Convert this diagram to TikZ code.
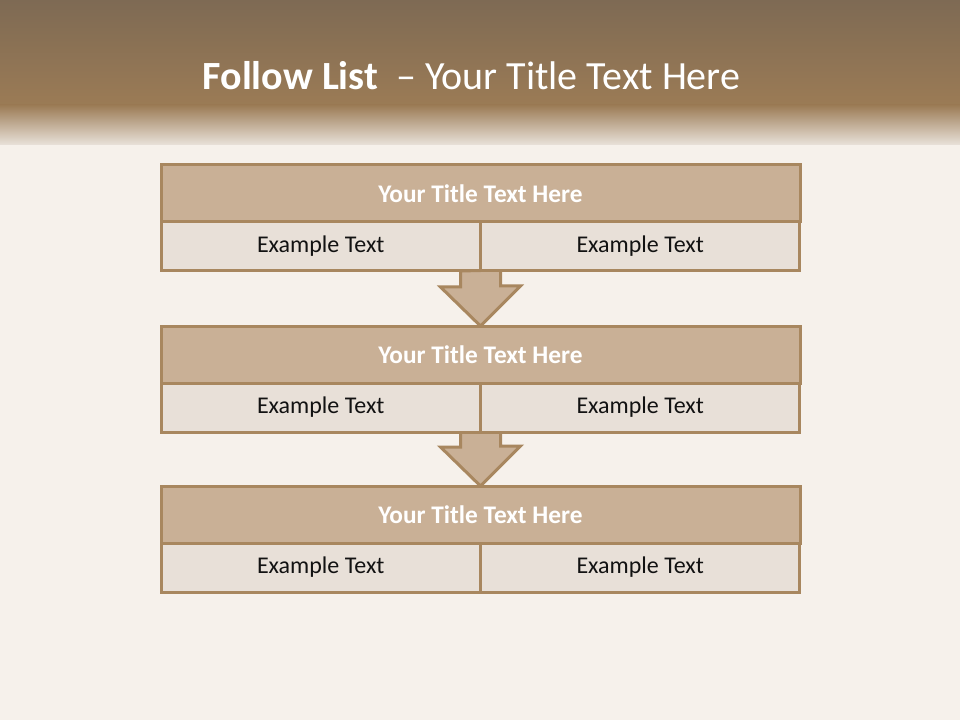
\documentclass[tikz,border=0pt]{standalone}
\usepackage{fontspec}
\setmainfont{Carlito}
\usetikzlibrary{positioning,calc,backgrounds}

\definecolor{paper}{HTML}{F6F1EB}
\definecolor{bandtop}{HTML}{7E6A54}
\definecolor{bandmid}{HTML}{9B7B55}
\definecolor{bandlow}{HTML}{E9E2DA}
\definecolor{rim}{HTML}{A8875F}
\definecolor{headfill}{HTML}{C9B096}
\definecolor{cellfill}{HTML}{E8E0D8}

\tikzset{
  head/.style={rectangle, draw=rim, fill=headfill, line width=2.25pt,
    minimum width=479.25pt, minimum height=42.75pt, inner sep=0pt, outer sep=0pt,
    text=white, font=\fontsize{19}{21}\selectfont\bfseries},
  cell/.style={rectangle, draw=rim, fill=cellfill, line width=2.25pt,
    minimum width=239.6pt, minimum height=36.75pt, inner sep=0pt, outer sep=0pt,
    text=black!93, font=\fontsize{18}{20}\selectfont},
  downarrow/.style={draw=rim, fill=headfill, line width=2.25pt, line join=miter}
}

\begin{document}
\begin{tikzpicture}[x=0.75pt, y=-0.75pt]
    \useasboundingbox (0,0) rectangle (960,720);

    % first block
    \node[head] (h1) at (480.5,193.5) {Your Title Text Here};
    \node[cell, anchor=north east] (l1) at (h1.south) {Example Text};
    \node[cell, anchor=north west] (r1) at (h1.south) {Example Text};

    % second block
    \node[head] (h2) at (480.5,354.5) {Your Title Text Here};
    \node[cell, anchor=north east] (l2) at (h2.south) {Example Text};
    \node[cell, anchor=north west] (r2) at (h2.south) {Example Text};

    % third block
    \node[head] (h3) at (480.5,514.5) {Your Title Text Here};
    \node[cell, anchor=north east] (l3) at (h3.south) {Example Text};
    \node[cell, anchor=north west] (r3) at (h3.south) {Example Text};

    % title
    \node[text=white, font=\fontsize{30}{33}\selectfont] (title) at (471.5,76)
        {\textbf{Follow List}\ \ -- Your Title Text Here};

    \begin{scope}[on background layer]
        % backdrop and band
        \fill[paper] (0,0) rectangle (960,720);
        \shade[top color=bandtop, bottom color=bandmid] (0,0) rectangle (960,105);
        \shade[top color=bandmid, bottom color=bandlow] (0,105) rectangle (960,145);

        % arrows
        \draw[downarrow] ($(l1.south east)+(-20,0)$) -- ++(0,16) -- ++(-20,0)
            -- (h2.north) -- ++(40,-40) -- ++(-20,0) -- ++(0,-16) -- cycle;
        \draw[downarrow] ($(l2.south east)+(-20,0)$) -- ++(0,15) -- ++(-20,0)
            -- (h3.north) -- ++(40,-40) -- ++(-20,0) -- ++(0,-15) -- cycle;
    \end{scope}
\end{tikzpicture}
\end{document}
